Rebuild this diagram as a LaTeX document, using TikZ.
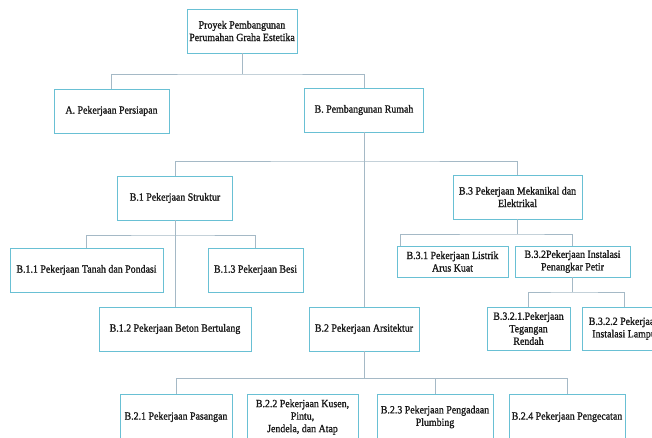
\documentclass[tikz,border=0pt]{standalone}
\usepackage{fontspec}
\setmainfont{Liberation Serif}[FakeStretch=0.9,FakeBold=1.2]
\usetikzlibrary{calc}
\definecolor{boxc}{RGB}{105,192,212}
\definecolor{linec}{RGB}{165,185,198}
\definecolor{txtc}{RGB}{25,25,25}
\tikzset{
  wbs/.style={draw=boxc, line width=0.9pt, align=center, inner sep=0pt,
    text=txtc, font=\fontsize{11}{12.5}\selectfont},
  conn/.style={draw=linec, line width=0.6pt},
}
\newcommand{\bx}[6]{\node[wbs, minimum width=#4, minimum height=#5] (#1) at (#2,#3) {#6};}
\begin{document}
\begin{tikzpicture}[x=1pt,y=-1pt]
\useasboundingbox (0,0) rectangle (652,437);
\clip (0,0) rectangle (652,437);
\fill[white] (0,0) rectangle (652,437);
% boxes
\bx{root}{242}{31}{110}{44}{Proyek Pembangunan\\Perumahan Graha Estetika}
\bx{A}{111.5}{111}{115}{44}{A. Pekerjaan Persiapan}
\bx{B}{364}{110}{119}{44}{B. Pembangunan Rumah}
\bx{B1}{175}{198}{115}{44}{B.1 Pekerjaan Struktur}
\bx{B3}{517.5}{197}{129}{44}{B.3 Pekerjaan Mekanikal dan\\Elektrikal}
\bx{B11}{86.5}{270}{153}{44}{B.1.1 Pekerjaan Tanah dan Pondasi}
\bx{B13}{255.5}{270}{95}{44}{B.1.3 Pekerjaan Besi}
\bx{B12}{175}{329}{152}{44}{B.1.2 Pekerjaan Beton Bertulang}
\bx{B2}{364}{329}{110}{44}{B.2 Pekerjaan Arsitektur}
\bx{B31}{452.5}{261.5}{111}{31}{B.3.1 Pekerjaan Listrik\\Arus Kuat}
\bx{B32}{572.5}{261.5}{115}{31}{B.3.2Pekerjaan Instalasi\\Penangkar Petir}
\bx{B321}{528.5}{328.5}{83}{43}{B.3.2.1.Pekerjaan\\Tegangan\\Rendah}
\bx{B322}{624}{328.5}{84}{43}{B.3.2.2 Pekerjaan\\Instalasi Lampu}
\bx{B21}{176}{417}{112}{46}{B.2.1 Pekerjaan Pasangan}
\bx{B22}{302.5}{417}{111}{46}{B.2.2 Pekerjaan Kusen,\\Pintu,\\Jendela, dan Atap}
\bx{B23}{435}{417}{116}{46}{B.2.3 Pekerjaan Pengadaan\\Plumbing}
\bx{B24}{567}{417}{116}{46}{B.2.4 Pekerjaan Pengecatan}
% junctions
\coordinate (j0) at (242,74);
\coordinate (jB) at (364,161);
\coordinate (j1) at (175,235);
\coordinate (j3) at (517.5,234);
\coordinate (j32) at (572.5,292);
\coordinate (j2) at (364,378);
% connectors
\draw[conn] (root.south) -- (j0);
\draw[conn] (A.north) |- (j0) -| (B.north);
\draw[conn] (B.south) -- (B2.north);
\draw[conn] (B1.north) |- (jB) -| (B3.north);
\draw[conn] (B1.south) -- (B12.north);
\draw[conn] (B11.north) |- (j1) -| (B13.north);
\draw[conn] (B3.south) -- (j3);
\draw[conn] ($(B31.north west)+(4,0)$) |- (j3) -| (B32.north);
\draw[conn] (B32.south) -- (j32);
\draw[conn] (B321.north) |- (j32) -| (B322.north);
\draw[conn] (B2.south) -- (j2);
\draw[conn] (B21.north) |- (j2) -| (B24.north);
\draw[conn] ($(B22.north)+(-6,0)$) -- ($(B22.north)+(-6,0)$ |- j2);
\draw[conn] (B23.north) -- (B23.north |- j2);
\end{tikzpicture}
\end{document}
